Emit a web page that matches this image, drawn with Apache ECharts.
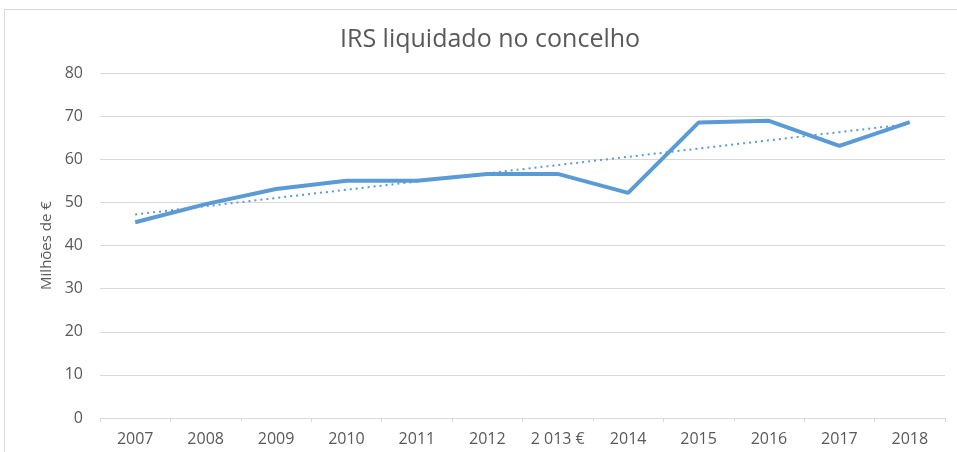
<!DOCTYPE html>
<html>
<head>
<meta charset="utf-8">
<script src="https://cdn.jsdelivr.net/npm/echarts@6/dist/echarts.min.js"></script>
<style>
  html, body { margin: 0; padding: 0; background: #fff; }
  #chart { width: 957px; height: 452px; }
</style>
</head>
<body>
<div id="chart"></div>
<script>
// 数据
const years = ['2007', '2008', '2009', '2010', '2011', '2012', '2 013 €', '2014', '2015', '2016', '2017', '2018'];
const irsValues = [45.4, 49.6, 53.1, 55.0, 55.0, 56.6, 56.6, 52.2, 68.5, 68.9, 63.1, 68.6];
// 趋势线两端
const trendEnds = [47.2, 68.2];
const yTicks = { min: 0, max: 80, interval: 10 };

document.addEventListener('DOMContentLoaded', function () {
    initChart();
});

function initChart() {
    const chartDom = document.getElementById('chart');
    const myChart = echarts.init(chartDom);

    const textColor = '#595959';
    const lineColor = '#5b9bd5';

    const option = {
        backgroundColor: '#fff',
        animation: false,
        textStyle: { fontFamily: 'Open Sans' },
        title: {
            text: 'IRS liquidado no concelho',
            left: 335,
            top: 22,
            textStyle: {
                color: textColor,
                fontSize: 25,
                fontWeight: 'normal',
                fontFamily: 'Open Sans'
            }
        },
        graphic: [{
            type: 'rect',
            shape: { x: 4.5, y: 9.5, width: 1000, height: 500 },
            style: { fill: 'none', stroke: '#d9d9d9', lineWidth: 1 },
            silent: true
        }],
        grid: {
            left: 100,
            right: 12,
            top: 73,
            bottom: 34
        },
        xAxis: {
            type: 'category',
            data: years,
            boundaryGap: true,
            axisLine: { lineStyle: { color: '#d9d9d9' } },
            axisTick: { show: true, length: 4, lineStyle: { color: '#d9d9d9' } },
            axisLabel: { color: textColor, fontSize: 16, margin: 13 }
        },
        yAxis: {
            type: 'value',
            min: yTicks.min,
            max: yTicks.max,
            interval: yTicks.interval,
            name: 'Milhões de €',
            nameLocation: 'middle',
            nameGap: 44,
            nameTextStyle: { color: textColor, fontSize: 15 },
            axisLine: { show: false },
            axisTick: { show: false },
            axisLabel: { color: textColor, fontSize: 16, margin: 17 },
            splitLine: { lineStyle: { color: '#d9d9d9', width: 1 } }
        },
        series: [
            {
                name: 'IRS',
                type: 'line',
                data: irsValues,
                symbol: 'none',
                lineStyle: { color: lineColor, width: 4 },
                z: 3
            },
            {
                name: 'Tendência',
                type: 'line',
                data: [[years[0], trendEnds[0]], [years[years.length - 1], trendEnds[1]]],
                symbol: 'none',
                lineStyle: { color: lineColor, width: 2, type: [2, 4] },
                z: 2
            }
        ]
    };

    myChart.setOption(option);

    window.addEventListener('resize', function () {
        myChart.resize();
    });
}
</script>
</body>
</html>
